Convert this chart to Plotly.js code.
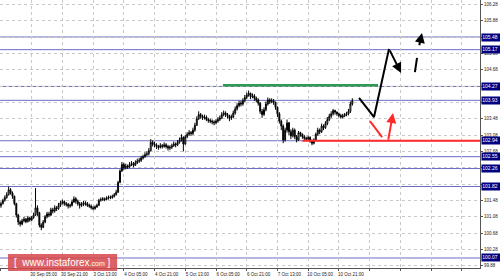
<!DOCTYPE html>
<html><head><meta charset="utf-8">
<script src="https://cdn.plot.ly/plotly-3.0.1.min.js"></script>
<style>html,body{margin:0;padding:0;background:#fff;}#c{width:500px;height:279px;}</style>
</head><body><div id="c"></div>
<script>
const closeP = [101.40,101.48,101.55,101.62,101.74,101.66,101.58,101.40,101.12,100.95,
100.90,100.98,101.02,100.96,101.05,101.00,101.06,101.12,101.30,101.18,
100.88,100.82,100.95,101.08,101.15,101.12,101.25,101.22,101.30,101.28,
101.36,101.42,101.45,101.40,101.38,101.34,101.36,101.44,101.52,101.46,
101.40,101.36,101.38,101.42,101.40,101.36,101.34,101.30,101.28,101.32,
101.36,101.48,101.50,101.52,101.50,101.54,101.56,101.55,101.58,101.62,
101.68,101.92,102.20,102.36,102.28,102.32,102.30,102.36,102.38,102.34,
102.40,102.44,102.46,102.52,102.55,102.60,102.62,102.70,102.90,102.86,
102.84,102.80,102.78,102.82,102.80,102.84,102.80,102.76,102.78,102.82,
102.86,102.84,102.90,102.96,103.02,102.86,103.04,103.10,103.14,103.12,
103.20,103.32,103.48,103.58,103.54,103.50,103.52,103.46,103.44,103.42,
103.40,103.38,103.42,103.46,103.50,103.58,103.62,103.58,103.55,103.50,
103.52,103.62,103.72,103.80,103.86,103.84,103.92,104.00,104.06,104.10,
104.02,104.04,103.98,103.94,103.86,103.66,103.58,103.70,103.84,103.94,
103.90,103.92,103.88,103.76,103.60,103.42,103.30,102.96,103.20,103.38,
103.16,103.06,103.20,103.04,102.96,103.14,103.10,103.04,103.00,102.98,
103.02,102.94,102.88,102.96,103.10,103.20,103.16,103.30,103.26,103.36,
103.46,103.54,103.60,103.68,103.64,103.60,103.56,103.52,103.55,103.58,
103.60,103.66,103.84,103.92];
const highP = [101.45,101.52,101.60,101.68,101.82,101.78,101.70,101.60,101.42,101.15,
100.99,101.03,101.08,101.05,101.10,101.08,101.10,101.18,101.78,101.36,
101.20,100.92,101.00,101.12,101.20,101.20,101.30,101.30,101.36,101.34,
101.42,101.47,101.50,101.48,101.44,101.42,101.40,101.50,101.58,101.56,
101.50,101.44,101.44,101.47,101.46,101.44,101.40,101.38,101.34,101.36,
101.40,101.52,101.55,101.56,101.55,101.58,101.60,101.60,101.62,101.66,
101.74,101.96,102.24,102.42,102.40,102.38,102.36,102.42,102.44,102.42,
102.46,102.50,102.52,102.57,102.60,102.66,102.68,102.76,102.98,102.95,
102.92,102.88,102.84,102.88,102.86,102.90,102.88,102.84,102.83,102.87,
102.92,102.90,102.96,103.02,103.10,103.05,103.08,103.15,103.20,103.18,
103.26,103.38,103.54,103.66,103.62,103.58,103.58,103.56,103.50,103.48,
103.46,103.44,103.47,103.52,103.56,103.64,103.68,103.66,103.62,103.58,
103.58,103.68,103.78,103.86,103.92,103.92,103.98,104.06,104.12,104.17,
104.12,104.10,104.08,104.02,103.98,103.88,103.72,103.76,103.90,104.00,
103.98,103.98,103.96,103.90,103.78,103.64,103.46,103.34,103.26,103.46,
103.40,103.22,103.26,103.24,103.08,103.18,103.16,103.12,103.08,103.04,
103.06,103.05,102.97,103.00,103.14,103.26,103.24,103.36,103.34,103.42,
103.52,103.60,103.66,103.72,103.70,103.66,103.63,103.60,103.60,103.62,
103.65,103.72,103.90,103.98];
const lowP = [101.30,101.38,101.45,101.52,101.60,101.62,101.52,101.36,101.06,100.88,
100.84,100.87,100.94,100.92,100.94,100.96,100.97,101.03,101.10,101.10,
100.82,100.75,100.80,100.92,101.04,101.07,101.10,101.16,101.18,101.22,
101.25,101.32,101.38,101.35,101.33,101.28,101.30,101.33,101.42,101.40,
101.35,101.28,101.32,101.34,101.35,101.32,101.30,101.26,101.24,101.25,
101.30,101.34,101.45,101.47,101.46,101.48,101.50,101.51,101.52,101.55,
101.60,101.66,101.90,102.18,102.22,102.24,102.25,102.27,102.32,102.29,
102.32,102.37,102.40,102.42,102.48,102.52,102.56,102.58,102.68,102.80,
102.78,102.74,102.72,102.75,102.75,102.77,102.75,102.70,102.71,102.74,
102.79,102.78,102.81,102.87,102.92,102.68,102.84,103.00,103.06,103.06,
103.08,103.16,103.30,103.45,103.48,103.45,103.46,103.42,103.38,103.37,
103.34,103.32,103.34,103.38,103.42,103.47,103.54,103.52,103.48,103.42,
103.45,103.49,103.58,103.68,103.76,103.78,103.80,103.88,103.96,104.02,
103.96,103.98,103.92,103.88,103.80,103.60,103.50,103.55,103.66,103.80,
103.84,103.86,103.82,103.70,103.52,103.36,103.20,102.88,102.92,103.14,
103.08,102.98,103.02,102.98,102.90,102.94,103.04,102.99,102.95,102.93,
102.94,102.89,102.83,102.85,102.93,103.06,103.10,103.13,103.20,103.23,
103.32,103.42,103.50,103.56,103.58,103.55,103.51,103.48,103.49,103.52,
103.54,103.56,103.62,103.80];
const firstOpen = 101.35;

const xTickIdx = [0,16,32,48,64,80,96,112,128,144,160,176,192,208,224,240];
const xTickText = ['29 Sep 13:00','30 Sep 05:00','30 Sep 21:00','3 Oct 13:00','4 Oct 05:00','4 Oct 21:00','5 Oct 13:00','6 Oct 05:00','6 Oct 21:00','7 Oct 13:00','10 Oct 05:00','10 Oct 21:00','','','',''];
const yTicks = [99.88,100.28,100.68,101.08,101.48,101.88,102.28,102.68,103.08,103.48,103.88,104.28,104.68,105.08,105.48,105.88,106.28];
// grid labels hidden behind a level box in the reference
const yTickText = ['99.88','100.28','100.68','101.08','101.48','','','102.68','103.08','103.48','103.88','','104.68','105.08','','105.88','106.28'];
const levels = [105.48,105.17,104.27,103.93,102.94,102.55,102.26,101.82,100.07];

const greenLevel = 104.30, greenFrom = 115.6, greenTo = 196.4;
const redLevel = 102.94, redFrom = 157;
const blackPathX = [186.5,194.3,202.1], blackPathY = [103.99,103.52,105.19];
const blackArrow1 = {tail:[202.1,105.19], tip:[208.4,104.60]};
const blackDashX = [215.6,216.7], blackDashY = [104.62,104.97];
const blackArrow2 = {tail:[217.7,105.24], tip:[219.3,105.58]};
const redSegX = [192.2,198.5], redSegY = [103.42,103.03];
const redArrow = {tail:[201.6,102.93], tip:[204.2,103.62]};

const idx = closeP.map((_, i) => i);
const openP = [firstOpen].concat(closeP.slice(0, -1));

const traces = [
  {type:'candlestick', x:idx, open:openP, high:highP, low:lowP, close:closeP,
   increasing:{line:{color:'#000000', width:1}, fillcolor:'#ffffff'},
   decreasing:{line:{color:'#000000', width:1}, fillcolor:'#000000'},
   whiskerwidth:0, hoverinfo:'skip', showlegend:false},
  {type:'scatter', mode:'lines', x:[greenFrom, greenTo], y:[greenLevel, greenLevel],
   line:{color:'#2e9a55', width:2.5}, showlegend:false, hoverinfo:'skip'},
  {type:'scatter', mode:'lines', x:[redFrom, 249.5], y:[redLevel, redLevel],
   line:{color:'#ff2b2b', width:2}, showlegend:false, hoverinfo:'skip'},
  {type:'scatter', mode:'lines', x:blackPathX, y:blackPathY,
   line:{color:'#000', width:2}, showlegend:false, hoverinfo:'skip'},
  {type:'scatter', mode:'lines', x:blackDashX, y:blackDashY,
   line:{color:'#000', width:2}, showlegend:false, hoverinfo:'skip'},
  {type:'scatter', mode:'lines', x:redSegX, y:redSegY,
   line:{color:'#ff2b2b', width:2}, showlegend:false, hoverinfo:'skip'}
];

const shapes = levels.map(v => ({type:'line', xref:'paper', x0:0, x1:1, yref:'y', y0:v, y1:v,
  line:{color:'#6b6bc4', width:1}, layer:'below'}));
shapes.push({type:'rect', xref:'paper', yref:'paper', x0:0.0167, x1:0.244, y0:-0.011, y1:0.052,
  fillcolor:'rgba(214,70,74,0.85)', line:{width:0}, layer:'above'});

function arrowAnn(a, color) {
  return {xref:'x', yref:'y', axref:'x', ayref:'y', x:a.tip[0], y:a.tip[1], ax:a.tail[0], ay:a.tail[1],
    showarrow:true, arrowhead:2, arrowsize:1, arrowwidth:2, arrowcolor:color, text:'', standoff:0, startstandoff:0};
}
const annotations = [arrowAnn(blackArrow1,'#000'), arrowAnn(blackArrow2,'#000'), arrowAnn(redArrow,'#ff2b2b')];
levels.forEach(v => annotations.push({xref:'paper', yref:'y', x:1, y:v, xanchor:'left', yanchor:'middle', xshift:1,
  text:v.toFixed(2), showarrow:false, bgcolor:'#000080', font:{family:'Liberation Sans, Arial', size:5, color:'#ffffff'},
  borderpad:0.3, width:17, align:'left'}));
annotations.push({xref:'paper', yref:'paper', x:0.130, y:0.0205, xanchor:'center', yanchor:'middle', showarrow:false,
  text:'[ &nbsp;www.instaforex<span style="font-size:7px">.com</span> ]', font:{family:'Liberation Sans, Arial', size:10, color:'#ffffff'}});

const layout = {
  width:500, height:279, margin:{l:0, r:20, t:0, b:11, pad:0},
  paper_bgcolor:'#ffffff', plot_bgcolor:'#ffffff', showlegend:false,
  xaxis:{range:[-0.5,249.5], tickmode:'array', tickvals:xTickIdx, ticktext:xTickText, tickangle:0,
    showgrid:true, gridcolor:'#c9c9c9', griddash:'dot', gridwidth:1, zeroline:false,
    showline:true, linecolor:'#555', linewidth:1, ticks:'outside', ticklen:2, tickcolor:'#555',
    tickfont:{family:'Liberation Sans, Arial', size:4.5, color:'#222'}, ticklabelshift:12, ticklabelstandoff:0,
    rangeslider:{visible:false}, fixedrange:true},
  yaxis:{range:[99.825,106.386], side:'right', tickmode:'array', tickvals:yTicks, ticktext:yTickText,
    showgrid:true, gridcolor:'#c9c9c9', griddash:'dot', gridwidth:1, zeroline:false,
    showline:true, linecolor:'#555', linewidth:1, ticks:'outside', ticklen:2, tickcolor:'#555',
    tickfont:{family:'Liberation Sans, Arial', size:4.5, color:'#222'}, fixedrange:true},
  shapes:shapes, annotations:annotations
};
Plotly.newPlot('c', traces, layout, {staticPlot:true, displayModeBar:false});
</script></body></html>
